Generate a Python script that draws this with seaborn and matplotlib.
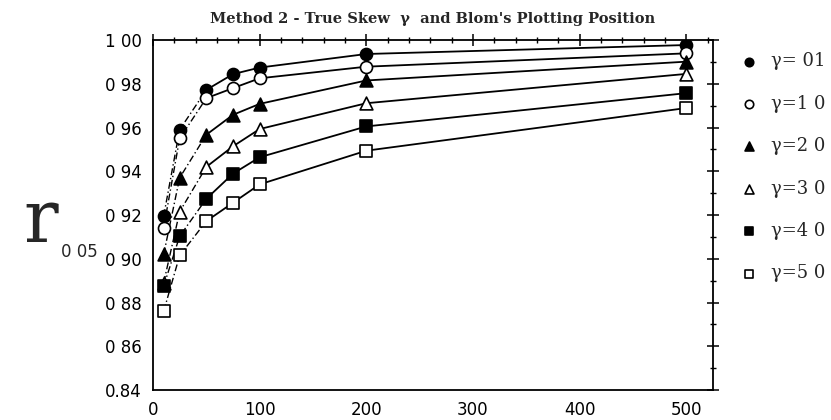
import numpy as np
import pandas as pd
import matplotlib
matplotlib.use("Agg")
import matplotlib.pyplot as plt
import seaborn as sns
from matplotlib.ticker import MultipleLocator

# ---- data ----
n_values = [10, 25, 50, 75, 100, 200, 500]
r_g01 = [0.9195, 0.9590, 0.9772, 0.9844, 0.9874, 0.9936, 0.9977]
r_g10 = [0.9142, 0.9550, 0.9734, 0.9780, 0.9825, 0.9878, 0.9939]
r_g20 = [0.9020, 0.9370, 0.9567, 0.9658, 0.9708, 0.9815, 0.9901]
r_g30 = [0.8890, 0.9215, 0.9420, 0.9514, 0.9593, 0.9711, 0.9845]
r_g40 = [0.8875, 0.9103, 0.9274, 0.9389, 0.9464, 0.9605, 0.9757]
r_g50 = [0.8760, 0.9015, 0.9172, 0.9256, 0.9340, 0.9494, 0.9689]
legend_labels = ["γ= 01", "γ=1 0", "γ=2 0", "γ=3 0", "γ=4 0", "γ=5 0"]
ytick_values = [0.84, 0.86, 0.88, 0.90, 0.92, 0.94, 0.96, 0.98, 1.00]
ytick_labels = ["0.84", "0 86", "0 88", "0 90", "0 92", "0 94", "0 96", "0 98", "1 00"]
xtick_values = [0, 100, 200, 300, 400, 500]
title_text = "Method 2 - True Skew  γ  and Blom's Plotting Position"

series = [r_g01, r_g10, r_g20, r_g30, r_g40, r_g50]
markers = ["o", "o", "^", "^", "s", "s"]
filled = [True, False, True, False, True, False]

sns.set_theme(style="white")
plt.rcParams["font.family"] = ["DejaVu Sans"]

fig = plt.figure(figsize=(8.31, 4.20), dpi=100)
ax = fig.add_axes([153 / 831, 1 - 390 / 420, (713 - 153) / 831, (390 - 40) / 420])

for vals, mk, fl, lab in zip(series, markers, filled, legend_labels):
    df = pd.DataFrame({"n": n_values, "r": vals})
    early = df[df["n"] <= 50]
    late = df[df["n"] >= 50]
    sns.lineplot(data=early, x="n", y="r", ax=ax, color="black", lw=1.0,
                 linestyle=(0, (5, 2, 1, 2)), legend=False)
    sns.lineplot(data=late, x="n", y="r", ax=ax, color="black", lw=1.3,
                 legend=False)
    sns.scatterplot(data=df, x="n", y="r", ax=ax, marker=mk, s=75 if mk != "^" else 85,
                    color="black" if fl else "white", edgecolor="black",
                    linewidth=1.2, label=lab, zorder=5)

ax.set_xlim(0, 525)
ax.set_ylim(0.84, 1.00)
ax.set_xticks(xtick_values)
ax.set_yticks(ytick_values)
ax.set_yticklabels(ytick_labels)
ax.xaxis.set_minor_locator(MultipleLocator(20))
ax.yaxis.set_minor_locator(MultipleLocator(0.01))
ax.tick_params(which="both", direction="inout", top=True, right=True,
               labelsize=12, colors="black")
ax.tick_params(which="major", length=8, width=1.1, pad=4)
ax.tick_params(which="minor", length=4, width=1.0)
ax.set_xlabel("")
ax.set_ylabel("")
for sp in ax.spines.values():
    sp.set_color("black")
    sp.set_linewidth(1.3)

ax.set_title(title_text, fontsize=10.5, family="DejaVu Serif", weight="bold", pad=12)

leg = ax.legend(loc="upper left", bbox_to_anchor=(1.02, 0.985), frameon=False,
                prop={"family": "DejaVu Serif", "size": 13},
                labelspacing=1.35, handletextpad=0.2, markerscale=0.7,
                borderaxespad=0)

fig.text(23 / 831, 1 - 242 / 420, "r", family="DejaVu Serif", fontsize=52,
         va="baseline", ha="left")
fig.text(61 / 831, 1 - 252 / 420, "0 05", fontsize=12, va="center", ha="left")

fig.savefig("out.png", dpi=100)
